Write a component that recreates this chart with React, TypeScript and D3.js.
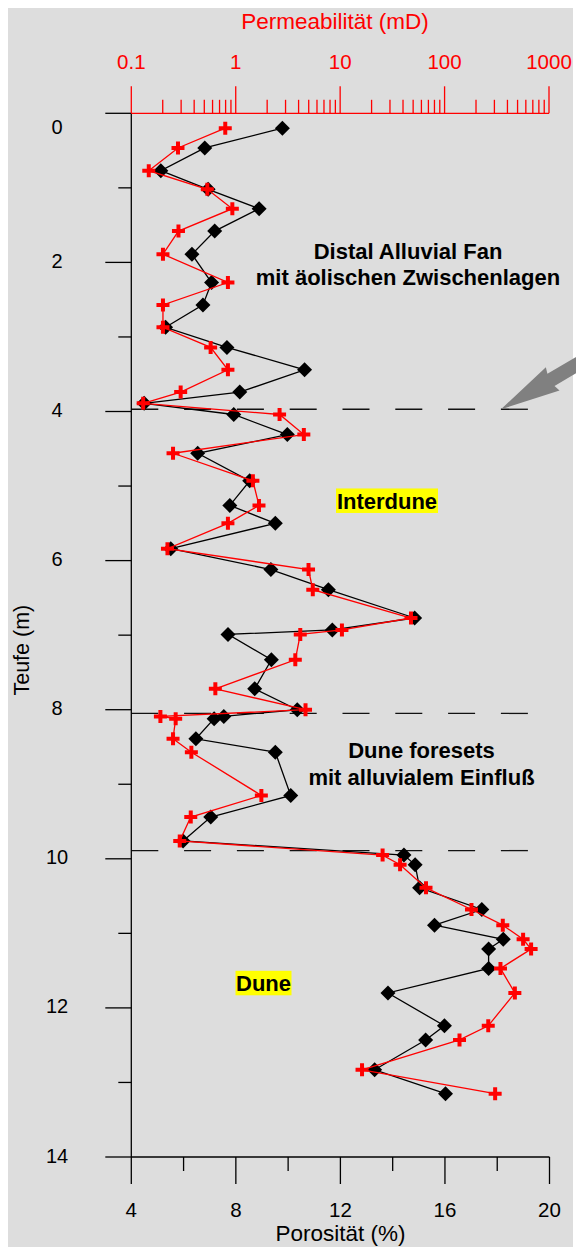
import React from "react";
import * as d3 from "d3";

// depth (m) of each sample
const depths = [
  0.2, 0.465, 0.77, 1.02, 1.28, 1.58, 1.89, 2.27, 2.57, 2.87, 3.14, 3.44, 3.74, 3.89, 4.04, 4.31, 4.56,
  4.93, 5.26, 5.5, 5.84, 6.12, 6.39, 6.77, 6.93, 6.99, 7.33, 7.72, 8.0, 8.09, 8.12, 8.39, 8.57, 9.15,
  9.44, 9.76, 9.95, 10.08, 10.39, 10.68, 10.89, 11.08, 11.21, 11.47, 11.8, 12.24, 12.43, 12.83, 13.15,
];
// porosity (%)
const porosity = [
  9.78, 6.81, 5.13, 6.94, 8.89, 7.19, 6.32, 7.07, 6.74, 5.31, 7.66, 10.63, 8.15, 4.49, 7.92, 9.97, 6.54,
  8.53, 7.77, 9.51, 5.51, 9.34, 11.54, 14.84, 11.69, 7.7, 9.36, 8.72, 10.35, 7.54, 7.17, 6.47, 9.51,
  10.1, 7.04, 5.98, 14.43, 14.86, 15.03, 17.41, 15.6, 18.23, 17.67, 17.67, 13.82, 15.98, 15.26, 13.31,
  16.02,
];
// permeability (mD)
const permeability = [
  0.794, 0.28, 0.147, 0.535, 0.928, 0.283, 0.201, 0.842, 0.201, 0.201, 0.575, 0.842, 0.297, 0.13, 2.63,
  4.49, 0.251, 1.46, 1.67, 0.842, 0.222, 4.98, 5.47, 47.7, 10.4, 4.15, 3.72, 0.638, 4.66, 0.19, 0.266,
  0.251, 0.376, 1.76, 0.371, 0.291, 25.5, 37.5, 66.4, 181, 361, 565, 674, 343, 471, 262, 139, 16.2, 305,
];

const depthTicks = [0, 2, 4, 6, 8, 10, 12, 14];
const depthMinorTicks = [1, 3, 5, 7, 9, 11, 13];
const porosityTicks = [4, 8, 12, 16, 20];
const porosityMinorTicks = [6, 10, 14, 18];
const permTicks = [0.1, 1, 10, 100, 1000];
const permTickLabels = ["0.1", "1", "10", "100", "1000"];
const boundaryDepths = [3.97, 8.05, 9.89];

const facies = [
  { lines: ["Distal Alluvial Fan", "mit äolischen Zwischenlagen"], depth: 2.02, x: 408, box: false },
  { lines: ["Interdune"], depth: 5.2, x: 387, box: true },
  { lines: ["Dune foresets", "mit alluvialem Einfluß"], depth: 8.72, x: 421.5, box: false },
  { lines: ["Dune"], depth: 11.67, x: 263.5, box: true },
];

const FONT = "'Liberation Sans', Arial, sans-serif";

export default function App() {
  const W = 576;
  const H = 1247;
  const left = 131.3;
  const right = 549.5;
  const top = 113.3;
  const bottom = 1157;

  const y = d3.scaleLinear().domain([0, 14]).range([top, bottom]);
  const xPor = d3.scaleLinear().domain([4, 20]).range([left, right]);
  const xPerm = d3.scaleLog().domain([0.1, 1000]).range([left, right - 0.5]);

  const permMinor: number[] = [];
  [0.1, 1, 10, 100].forEach((dec) => {
    for (let m = 2; m <= 9; m++) permMinor.push(dec * m);
  });

  const porLine = d3
    .line<number>()
    .x((_, i) => xPor(porosity[i]))
    .y((_, i) => y(depths[i]));
  const permLine = d3
    .line<number>()
    .x((_, i) => xPerm(permeability[i]))
    .y((_, i) => y(depths[i]));

  // arrow geometry
  const tip = [501, 409.3];
  const ang = (30.5 * Math.PI) / 180;
  const u = [Math.cos(ang), -Math.sin(ang)];
  const n = [Math.sin(ang), Math.cos(ang)];
  const P = (a: number, b: number) => [tip[0] + a * u[0] + b * n[0], tip[1] + a * u[1] + b * n[1]];
  const arrowPts = [P(0, 0), P(60, 13.5), P(58, 7), P(130, 7), P(130, -7), P(58, -7), P(60, -13.5)];

  return (
    <svg
      width={W}
      height={H}
      style={{ position: "absolute", left: 0, top: 0, display: "block" }}
      fontFamily={FONT}
    >
      <rect x={8} y={8} width={565} height={1239} fill="#dddddd" />

      {/* boundary dashed lines */}
      {boundaryDepths.map((d) => (
        <line
          key={d}
          x1={left}
          x2={528}
          y1={y(d)}
          y2={y(d)}
          stroke="#111"
          strokeWidth={1.3}
          strokeDasharray="27 25.8"
        />
      ))}

      {/* arrow */}
      <polygon points={arrowPts.map((p) => p.join(",")).join(" ")} fill="#808080" />

      {/* facies labels */}
      {facies.map((f, i) => {
        const fs = 22;
        const cy = y(f.depth);
        return (
          <g key={i}>
            {f.box &&
              f.lines.map((t) => {
                const w = t.length === 4 ? 56 : 102;
                return (
                  <rect key={t} x={f.x - w / 2} y={cy - 12.5} width={w} height={24.5} fill="#ffff00" />
                );
              })}
            {f.lines.map((t, j) => (
              <text
                key={t}
                x={f.x}
                y={cy + 8 + (j - (f.lines.length - 1) / 2) * 26.7}
                textAnchor="middle"
                fontWeight="bold"
                fontSize={fs}
                fill="#000"
              >
                {t}
              </text>
            ))}
          </g>
        );
      })}

      {/* left axis */}
      <line x1={left} x2={left} y1={top} y2={bottom} stroke="#000" strokeWidth={1.3} />
      {depthTicks.map((d) => (
        <line key={"dt" + d} x1={left - 26} x2={left} y1={y(d)} y2={y(d)} stroke="#000" strokeWidth={1.3} />
      ))}
      {depthMinorTicks.map((d) => (
        <line key={"dm" + d} x1={left - 13} x2={left} y1={y(d)} y2={y(d)} stroke="#000" strokeWidth={1.3} />
      ))}
      {depthTicks.map((d) => (
        <text key={"dl" + d} x={57} y={d === 0 ? 134 : y(d) + 5.5} textAnchor="middle" fontSize={20} fill="#000">
          {d}
        </text>
      ))}
      <text
        transform={`translate(22,${(top + bottom) / 2 + 15}) rotate(-90)`}
        textAnchor="middle"
        dominantBaseline="central"
        fontSize={21.5}
        fill="#000"
      >
        Teufe (m)
      </text>

      {/* bottom axis */}
      <line x1={left} x2={right} y1={bottom} y2={bottom} stroke="#000" strokeWidth={1.3} />
      {porosityTicks.map((p) => (
        <line key={"pt" + p} x1={xPor(p)} x2={xPor(p)} y1={bottom} y2={bottom + 27} stroke="#000" strokeWidth={1.3} />
      ))}
      {porosityMinorTicks.map((p) => (
        <line key={"pm" + p} x1={xPor(p)} x2={xPor(p)} y1={bottom} y2={bottom + 14} stroke="#000" strokeWidth={1.3} />
      ))}
      {porosityTicks.map((p) => (
        <text key={"pl" + p} x={xPor(p)} y={1217} textAnchor="middle" fontSize={20.5} fill="#000">
          {p}
        </text>
      ))}
      <text x={(left + right) / 2} y={1241} textAnchor="middle" fontSize={22.5} fill="#000">
        Porosität (%)
      </text>

      {/* top axis (permeability, log) */}
      <line x1={left} x2={xPerm(1000)} y1={top} y2={top} stroke="#ff0000" strokeWidth={1.3} />
      {permTicks.map((k) => (
        <line key={"kt" + k} x1={xPerm(k)} x2={xPerm(k)} y1={top} y2={top - 27} stroke="#ff0000" strokeWidth={1.3} />
      ))}
      {permMinor.map((k) => (
        <line key={"km" + k} x1={xPerm(k)} x2={xPerm(k)} y1={top} y2={top - 13.5} stroke="#ff0000" strokeWidth={1.3} />
      ))}
      {permTicks.map((k, i) => (
        <text key={"kl" + k} x={xPerm(k)} y={69} textAnchor="middle" fontSize={20.5} fill="#ff0000">
          {permTickLabels[i]}
        </text>
      ))}
      <text x={335} y={28.5} textAnchor="middle" fontSize={22.5} fill="#ff0000">
        Permeabilität (mD)
      </text>

      {/* porosity series */}
      <path d={porLine(depths) || ""} fill="none" stroke="#000" strokeWidth={1.3} />
      {depths.map((d, i) => {
        const cx = xPor(porosity[i]);
        const cy = y(d);
        const s = 7.5;
        return (
          <path
            key={"pd" + i}
            d={`M${cx},${cy - s}L${cx + s},${cy}L${cx},${cy + s}L${cx - s},${cy}Z`}
            fill="#000"
          />
        );
      })}

      {/* permeability series */}
      <path d={permLine(depths) || ""} fill="none" stroke="#ff0000" strokeWidth={1.3} />
      {depths.map((d, i) => {
        const cx = xPerm(permeability[i]);
        const cy = y(d);
        const a = 6.5;
        const t = 2;
        return (
          <path
            key={"kc" + i}
            d={`M${cx - a},${cy - t}H${cx - t}V${cy - a}H${cx + t}V${cy - t}H${cx + a}V${cy + t}H${cx + t}V${cy + a}H${cx - t}V${cy + t}H${cx - a}Z`}
            fill="#ff0000"
          />
        );
      })}
    </svg>
  );
}
